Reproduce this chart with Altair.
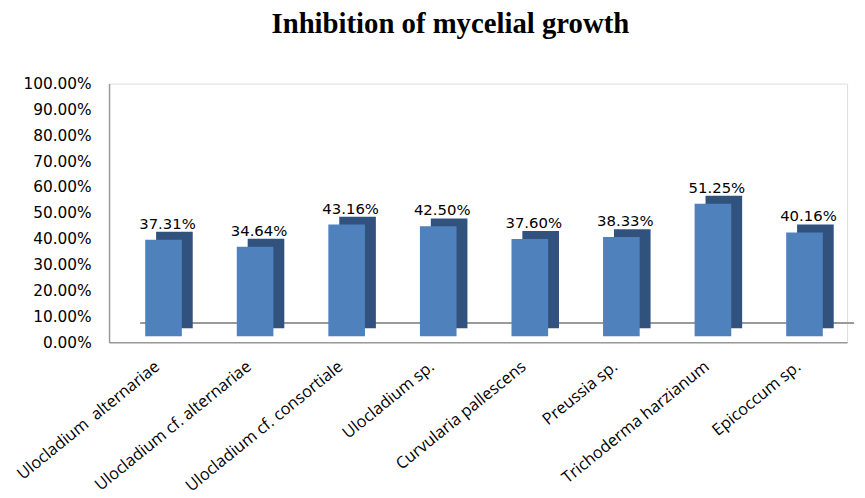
import altair as alt
import pandas as pd

categories = [
    "Ulocladium\u00a0 alternariae",
    "Ulocladium cf. alternariae",
    "Ulocladium cf. consortiale",
    "Ulocladium sp.",
    "Curvularia pallescens",
    "Preussia sp.",
    "Trichoderma harzianum",
    "Epicoccum sp.",
]
inhibition = [0.3731, 0.3464, 0.4316, 0.4250, 0.3760, 0.3833, 0.5125, 0.4016]
y_ticks = [0.0, 0.1, 0.2, 0.3, 0.4, 0.5, 0.6, 0.7, 0.8, 0.9, 1.0]

df = pd.DataFrame({"species": categories, "value": inhibition})

x_enc = alt.X(
    "species:N",
    sort=categories,
    title=None,
    scale=alt.Scale(paddingInner=0.6, paddingOuter=0.33),
    axis=alt.Axis(
        labelAngle=-39,
        labelFont="Open Sans",
        labelFontSize=16.5,
        labelColor="#000000",
        labelPadding=16,
        labelOffset=-5,
        ticks=False,
        domainColor="#9a9a9a",
        domainWidth=1.5,
        labelLimit=300,
        labelOverlap=False,
    ),
)
y_scale = alt.Scale(domain=[0, 1], nice=False)
y_axis = alt.Axis(
    values=y_ticks,
    format=".2%",
    labelFont="DejaVu Sans",
    labelFontSize=15.5,
    labelColor="#000000",
    labelPadding=18,
    labelOverlap=False,
    ticks=False,
    grid=False,
    domainColor="#9a9a9a",
    domainWidth=1.5,
    title=None,
)
y_enc = alt.Y("value:Q", title=None, scale=y_scale, axis=y_axis)

base = alt.Chart(df)

floor_back = base.mark_rule(color="#9a9a9a", strokeWidth=1.5, xOffset=30, yOffset=-19).encode(
    y=alt.YDatum(0, scale=y_scale, axis=y_axis), x=alt.value(2), x2=alt.value(752)
)

side = base.mark_bar(color="#30527d", xOffset=17, yOffset=-14).encode(x=x_enc, y=y_enc)
front = base.mark_bar(color="#4f81bd", xOffset=6, yOffset=-6).encode(x=x_enc, y=y_enc)
labels = base.mark_text(
    font="DejaVu Sans", fontSize=15, color="#000000", baseline="bottom", dy=-14, xOffset=10
).encode(x=x_enc, y=y_enc, text=alt.Text("value:Q", format=".2%"))

chart = (
    alt.layer(floor_back, side, front, labels)
    .properties(
        width=745,
        height=261,
        padding={"left": 6, "top": 0, "right": 2, "bottom": 2},
        title=alt.TitleParams(
            "Inhibition of mycelial growth",
            font="Liberation Serif",
            fontSize=29,
            fontWeight="bold",
            color="#000000",
            anchor="middle",
            dx=-28,
            offset=38,
        ),
    )
    .configure_view(strokeWidth=0, stroke="transparent")
    .configure(background="#ffffff")
)

chart.save("out.html", embed_options={"renderer": "svg", "actions": False})
